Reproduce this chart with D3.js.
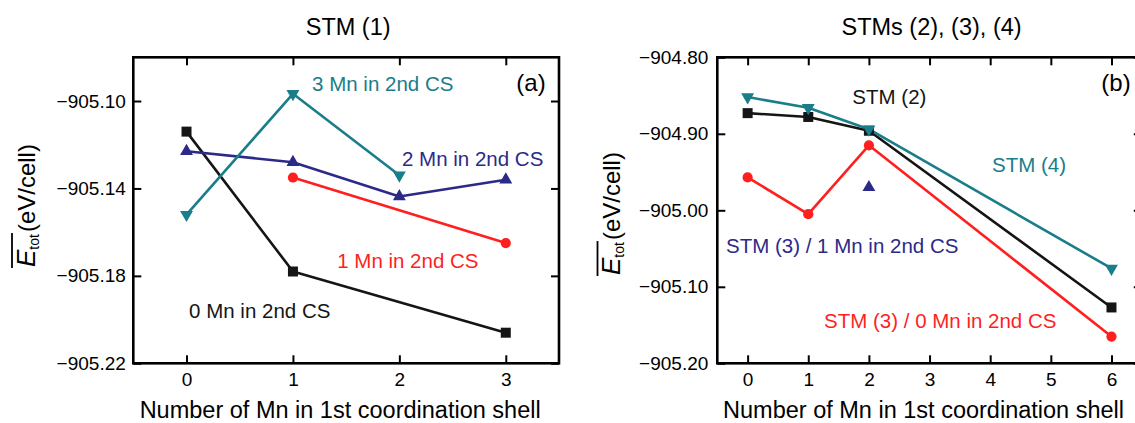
<!DOCTYPE html>
<html><head><meta charset="utf-8">
<script src="https://cdn.jsdelivr.net/npm/d3@7"></script>
<style>
body{margin:0;background:#fff}
svg{display:block}
text{font-family:"Liberation Sans",Arial,Helvetica,sans-serif}
</style>
</head><body>
<svg id="chart" width="1135" height="423"></svg>
<script>
// ---------------- DATA ----------------
// Panel (a): STM (1)
const aTitle = "STM (1)";
const aXTicks = [0, 1, 2, 3];
const aYTicks = [-905.22, -905.18, -905.14, -905.10];
const aMn0X = [0, 1, 3];
const aMn0Y = [-905.114, -905.178, -905.206];
const aMn1X = [1, 3];
const aMn1Y = [-905.135, -905.165];
const aMn2X = [0, 1, 2, 3];
const aMn2Y = [-905.123, -905.128, -905.1437, -905.136];
const aMn3X = [0, 1, 2];
const aMn3Y = [-905.152, -905.0967, -905.134];

// Panel (b): STMs (2), (3), (4)
const bTitle = "STMs (2), (3), (4)";
const bXTicks = [0, 1, 2, 3, 4, 5, 6];
const bYTicks = [-905.20, -905.10, -905.00, -904.90, -904.80];
const bStm4X = [0, 1, 2, 6];
const bStm4Y = [-904.852, -904.866, -904.894, -905.076];
const bStm2X = [0, 1, 2, 6];
const bStm2Y = [-904.873, -904.878, -904.896, -905.127];
const bStm3Mn0X = [0, 1, 2, 6];
const bStm3Mn0Y = [-904.957, -905.005, -904.915, -905.165];
const bStm3Mn1X = [2];
const bStm3Mn1Y = [-904.970];

const xTitle = "Number of Mn in 1st coordination shell";
const yUnit = "(eV/cell)";

// ---------------- STYLE / LAYOUT ----------------
const C = { black: "#151515", red: "#ff1f1f", navy: "#2c2a88", teal: "#1a7d8a" };
const FONT = '"Liberation Sans",Arial,Helvetica,sans-serif';
const svg = d3.select("#chart");

const panels = {
  a: { left: 133.3, right: 559, top: 57.3, bottom: 363.3,
       xDomain: [-0.5, 3.5], yDomain: [-905.22, -905.08],
       xTicks: aXTicks, yTicks: aYTicks, yPad: 7.5, title: aTitle,
       yTitleX: 34.5, yTitleY: 267 },
  b: { left: 717.3, right: 1141.8, top: 57.3, bottom: 363.3,
       xDomain: [-0.5, 6.5], yDomain: [-905.20, -904.80],
       xTicks: bXTicks, yTicks: bYTicks, yPad: 9, title: bTitle,
       yTitleX: 620, yTitleY: 275 }
};

const zip = (xs, ys) => xs.map((v, i) => [v, ys[i]]);

function setupPanel(p) {
  p.x = d3.scaleLinear().domain(p.xDomain).range([p.left, p.right]);
  p.y = d3.scaleLinear().domain(p.yDomain).range([p.bottom, p.top]);
  const g = svg.append("g");
  p.g = g;
  const styleAxis = sel => {
    sel.select(".domain").remove();
    sel.selectAll(".tick line").attr("stroke", "#000").attr("stroke-width", 2);
    sel.selectAll(".tick text").attr("fill", "#000").style("font-family", FONT).style("font-size", "19px");
    sel.attr("font-family", null).attr("font-size", null);
  };
  g.append("g").attr("transform", `translate(0,${p.bottom})`)
    .call(d3.axisBottom(p.x).tickValues(p.xTicks).tickSize(-8).tickSizeOuter(0).tickPadding(9).tickFormat(d3.format("d")))
    .call(styleAxis);
  g.append("g").attr("transform", `translate(0,${p.top})`)
    .call(d3.axisTop(p.x).tickValues(p.xTicks).tickSize(-8).tickSizeOuter(0).tickFormat(""))
    .call(styleAxis);
  g.append("g").attr("transform", `translate(${p.left},0)`)
    .call(d3.axisLeft(p.y).tickValues(p.yTicks).tickSize(-8).tickSizeOuter(0).tickPadding(p.yPad).tickFormat(d3.format(".2f")))
    .call(styleAxis);
  g.append("g").attr("transform", `translate(${p.right},0)`)
    .call(d3.axisRight(p.y).tickValues(p.yTicks).tickSize(-8).tickSizeOuter(0).tickFormat(""))
    .call(styleAxis);
  g.append("rect").attr("x", p.left).attr("y", p.top)
    .attr("width", p.right - p.left).attr("height", p.bottom - p.top)
    .attr("fill", "none").attr("stroke", "#000").attr("stroke-width", 2.6);

  // panel title
  g.append("text").attr("x", (p.left + p.right) / 2 + 2).attr("y", 35)
    .attr("text-anchor", "middle").style("font-size", "23.5px").attr("fill", "#000").text(p.title);
  // x title
  g.append("text").attr("x", (p.left + p.right) / 2 - 6).attr("y", 417.5)
    .attr("text-anchor", "middle").style("font-size", "23.5px").attr("fill", "#000").text(xTitle);
  // y title: overlined italic E with subscript "tot", then unit
  const yt = g.append("g").attr("transform", `translate(${p.yTitleX},${p.yTitleY}) rotate(-90)`);
  const t = yt.append("text").attr("x", 0).attr("y", 0).attr("fill", "#000");
  const tE = t.append("tspan").style("font-size", "26px").style("font-style", "italic").text("E");
  const tSub = t.append("tspan").style("font-size", "14px").attr("dy", 4).attr("dx", 0).text("tot");
  t.append("tspan").style("font-size", "24px").attr("dy", -4).attr("dx", 2).text(yUnit);
  const lenE = tE.node().getComputedTextLength();
  const lenS = tSub.node().getComputedTextLength();
  yt.append("line").attr("x1", -1).attr("x2", lenE + lenS + 1)
    .attr("y1", -22.5).attr("y2", -22.5).attr("stroke", "#000").attr("stroke-width", 1.8);
  return p;
}

const pa = setupPanel(panels.a);
const pb = setupPanel(panels.b);

const series = [
  { p: pa, xs: aMn0X, ys: aMn0Y, color: C.black, shape: "square" },
  { p: pa, xs: aMn1X, ys: aMn1Y, color: C.red, shape: "circle" },
  { p: pa, xs: aMn2X, ys: aMn2Y, color: C.navy, shape: "up" },
  { p: pa, xs: aMn3X, ys: aMn3Y, color: C.teal, shape: "down" },
  { p: pb, xs: bStm3Mn0X, ys: bStm3Mn0Y, color: C.red, shape: "circle" },
  { p: pb, xs: bStm2X, ys: bStm2Y, color: C.black, shape: "square" },
  { p: pb, xs: bStm4X, ys: bStm4Y, color: C.teal, shape: "down" },
  { p: pb, xs: bStm3Mn1X, ys: bStm3Mn1Y, color: C.navy, shape: "up" }
];

const symbolFor = {
  square: d3.symbol().type(d3.symbolSquare).size(100),
  circle: d3.symbol().type(d3.symbolCircle).size(82),
  up: d3.symbol().type(d3.symbolTriangle).size(72),
  down: d3.symbol().type(d3.symbolTriangle).size(72)
};

series.forEach(s => {
  const pts = zip(s.xs, s.ys);
  const line = d3.line().x(d => s.p.x(d[0])).y(d => s.p.y(d[1]));
  if (pts.length > 1) {
    s.p.g.append("path").datum(pts).attr("d", line)
      .attr("fill", "none").attr("stroke", s.color).attr("stroke-width", 2.6).attr("stroke-linejoin", "round");
  }
});
series.forEach(s => {
  const pts = zip(s.xs, s.ys);
  s.p.g.selectAll(null).data(pts).enter().append("path")
    .attr("d", symbolFor[s.shape])
    .attr("transform", d => `translate(${s.p.x(d[0])},${s.p.y(d[1])})` + (s.shape === "down" ? " rotate(180)" : ""))
    .attr("fill", s.color);
});

// annotations (data coordinates of the text anchor)
const notes = [
  { p: pa, text: "3 Mn in 2nd CS", x: 1.18, y: -905.0952, color: C.teal, anchor: "start", size: 20.5 },
  { p: pa, text: "(a)", x: 3.375, y: -905.0955, color: "#000", anchor: "end", size: 24 },
  { p: pa, text: "2 Mn in 2nd CS", x: 2.025, y: -905.1296, color: C.navy, anchor: "start", size: 20.5 },
  { p: pa, text: "1 Mn in 2nd CS", x: 1.416, y: -905.1765, color: C.red, anchor: "start", size: 20.5 },
  { p: pa, text: "0 Mn in 2nd CS", x: 0.024, y: -905.1994, color: C.black, anchor: "start", size: 20.5 },
  { p: pb, text: "STM (2)", x: 1.727, y: -904.861, color: C.black, anchor: "start", size: 20.5 },
  { p: pb, text: "(b)", x: 6.316, y: -904.8437, color: "#000", anchor: "end", size: 24 },
  { p: pb, text: "STM (4)", x: 4.03, y: -904.9495, color: C.teal, anchor: "start", size: 20.5 },
  { p: pb, text: "STM (3) / 1 Mn in 2nd CS", x: -0.357, y: -905.0562, color: C.navy, anchor: "start", size: 20.5 },
  { p: pb, text: "STM (3) / 0 Mn in 2nd CS", x: 1.26, y: -905.1543, color: C.red, anchor: "start", size: 20.5 }
];
notes.forEach(n => {
  n.p.g.append("text").attr("x", n.p.x(n.x)).attr("y", n.p.y(n.y))
    .attr("text-anchor", n.anchor).attr("fill", n.color)
    .style("font-size", n.size + "px").text(n.text);
});
</script>
</body></html>
